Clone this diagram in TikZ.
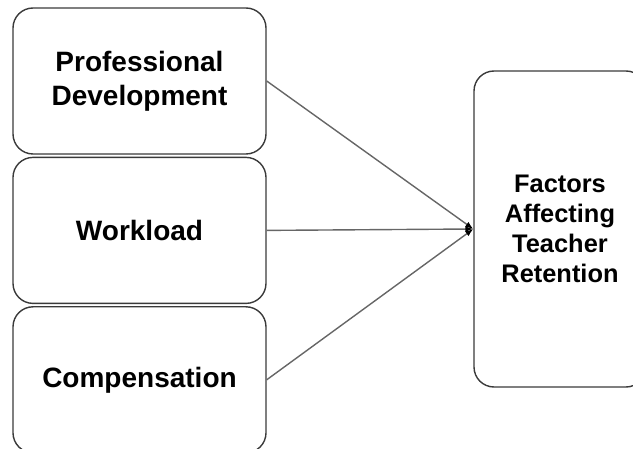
\documentclass[tikz,border=0pt]{standalone}
\usepackage{fontspec}
\setmainfont{Liberation Sans}
\usetikzlibrary{positioning,arrows.meta}
\definecolor{edgegray}{HTML}{666666}
\definecolor{framegray}{HTML}{3A3A3A}

\begin{document}
\begin{tikzpicture}[
  x=1pt, y=1pt,
  node distance=2pt,
  factor/.style={draw=framegray, line width=1.4pt, rounded corners=20pt, align=center,
                 minimum width=253pt, minimum height=146pt, inner sep=0pt,
                 font=\fontsize{28}{34}\selectfont\bfseries},
  outcome/.style={draw=framegray, line width=1.4pt, rounded corners=20pt, align=center,
                  minimum width=172pt, minimum height=316pt, inner sep=0pt,
                  font=\fontsize{25.4}{30}\selectfont\bfseries},
  link/.style={-{Latex[length=8pt,width=6pt,color=black]}, draw=edgegray, line width=1.4pt}
]
\clip (0,0) rectangle (633,-449);
\node[factor] (prof) at (139.5,-81) {Professional\\Development};
\node[factor, below=of prof] (work) {Workload};
\node[factor, below=of work] (comp) {Compensation};
\node[outcome] (ret) at (560,-229) {Factors\\Affecting\\Teacher\\Retention};
% three factors meet at the outcome box
\foreach \src in {prof,work,comp}
  \draw[link] (\src.east) -- (ret.west);
\end{tikzpicture}
\end{document}
